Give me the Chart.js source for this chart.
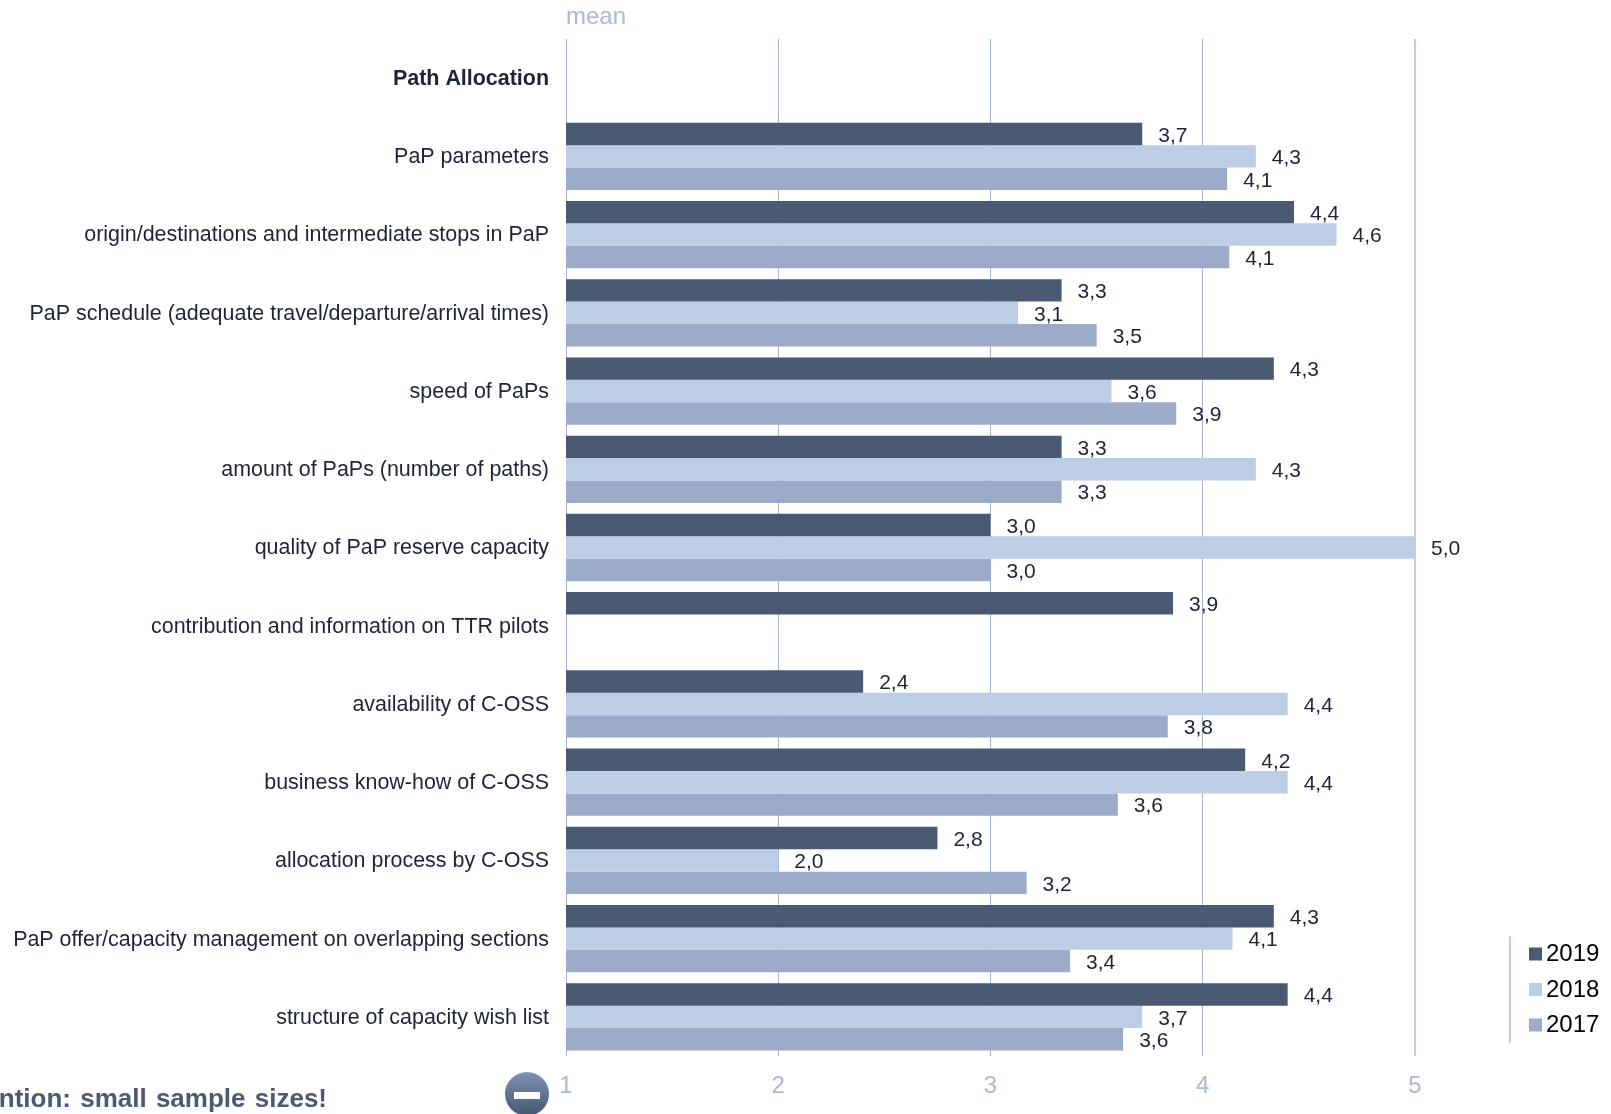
<!DOCTYPE html>
<html lang="en">
<head>
    <meta charset="UTF-8">
    <title>Path Allocation - mean</title>
    <script src="https://cdn.jsdelivr.net/npm/chart.js"></script>
    <style>
        html, body { margin: 0; padding: 0; background: #fff; overflow: hidden; }
        #wrap { position: relative; width: 1611px; height: 1114px; overflow: hidden; }
        #note {
            position: absolute; right: 1284px; top: 1083px; white-space: nowrap; word-spacing: 2px;
            font: bold 26px 'Liberation Sans', sans-serif; color: #4b5a73;
        }
        #icon {
            position: absolute; left: 505px; top: 1072px; width: 44px; height: 44px; border-radius: 50%;
            background: linear-gradient(#7d92b5, #47556f);
        }
        #icon:after {
            content: ''; position: absolute; left: 9px; top: 20px; width: 26px; height: 7px; background: #fff;
        }
    </style>
</head>
<body>
    <div id="wrap">
        <canvas id="meanChart" width="1611" height="1114"></canvas>
        <div id="note">Attention: small sample sizes!</div>
        <div id="icon"></div>
    </div>

    <script>
        const categories = [
            'Path Allocation',
            'PaP parameters',
            'origin/destinations and intermediate stops in PaP',
            'PaP schedule (adequate travel/departure/arrival times)',
            'speed of PaPs',
            'amount of PaPs (number of paths)',
            'quality of PaP reserve capacity',
            'contribution and information on TTR pilots',
            'availability of C-OSS',
            'business know-how of C-OSS',
            'allocation process by C-OSS',
            'PaP offer/capacity management on overlapping sections',
            'structure of capacity wish list'
        ];
        const values2019 = [null, 3.715, 4.43, 3.335, 4.335, 3.335, 3.0, 3.86, 2.40, 4.20, 2.75, 4.335, 4.40];
        const values2018 = [null, 4.25, 4.63, 3.13, 3.57, 4.25, 5.0, null, 4.40, 4.40, 2.0, 4.14, 3.715];
        const values2017 = [null, 4.115, 4.125, 3.50, 3.875, 3.335, 3.0, null, 3.835, 3.60, 3.17, 3.375, 3.625];
        const xTicks = [1, 2, 3, 4, 5];

        const FONT = "'Liberation Sans', sans-serif";
        const TEXT = '#1c2438';

        // value labels next to the bars, with a decimal comma
        const valueLabels = {
            id: 'valueLabels',
            afterDatasetsDraw(chart) {
                const c = chart.ctx;
                c.save();
                c.font = '21px ' + FONT;
                c.fillStyle = TEXT;
                c.textAlign = 'left';
                c.textBaseline = 'middle';
                chart.data.datasets.forEach((ds, i) => {
                    chart.getDatasetMeta(i).data.forEach((bar, j) => {
                        if (ds.data[j] === null) return;
                        c.fillText(ds.data[j].toFixed(1).replace('.', ','), bar.x + 16, bar.y + 2);
                    });
                });
                c.restore();
            }
        };

        // "mean" caption and the legend block at the lower right
        const extras = {
            id: 'extras',
            afterDraw(chart) {
                const c = chart.ctx;
                c.save();
                c.font = '24px ' + FONT;
                c.fillStyle = '#a9b8d6';
                c.textBaseline = 'middle';
                c.fillText('mean', chart.chartArea.left, 17);

                c.fillStyle = '#bccde6';
                c.fillRect(1509, 936, 2, 107);
                chart.data.datasets.forEach((ds, i) => {
                    const y = 954 + i * 35.5;
                    c.fillStyle = ds.backgroundColor;
                    c.fillRect(1529, y - 6.5, 13, 13);
                    c.fillStyle = '#000';
                    c.fillText(ds.label, 1546, y + 0.5);
                });
                c.restore();
            }
        };

        new Chart(document.getElementById('meanChart'), {
            type: 'bar',
            data: {
                labels: categories,
                datasets: [
                    { label: '2019', data: values2019, backgroundColor: '#4b5a73' },
                    { label: '2018', data: values2018, backgroundColor: '#bccde6' },
                    { label: '2017', data: values2017, backgroundColor: '#9cabc9' }
                ]
            },
            options: {
                indexAxis: 'y',
                responsive: false,
                animation: false,
                categoryPercentage: 0.86,
                barPercentage: 1,
                layout: { padding: { top: 39, right: 196 } },
                plugins: { legend: { display: false }, tooltip: { enabled: false } },
                scales: {
                    x: {
                        min: 1,
                        max: 5,
                        afterFit: s => { s.height = 58; },
                        afterBuildTicks: s => { s.ticks = xTicks.map(value => ({ value })); },
                        grid: {
                            color: ctx => ctx.index === 4 ? '#bccde6' : '#a4b4d2',
                            lineWidth: ctx => ctx.index === 4 ? 2 : 1,
                            drawTicks: false
                        },
                        border: { display: false },
                        ticks: { color: '#a9b8d6', padding: 16, font: { family: FONT, size: 24 } }
                    },
                    y: {
                        afterFit: s => { s.width = 566; },
                        grid: { display: false },
                        border: { display: false },
                        ticks: {
                            color: TEXT,
                            padding: 9,
                            labelOffset: 1,
                            autoSkip: false,
                            font: ctx => ({ family: FONT, size: 21.45, weight: ctx.index === 0 ? 'bold' : 'normal' })
                        }
                    }
                }
            },
            plugins: [valueLabels, extras]
        });
    </script>
</body>
</html>
